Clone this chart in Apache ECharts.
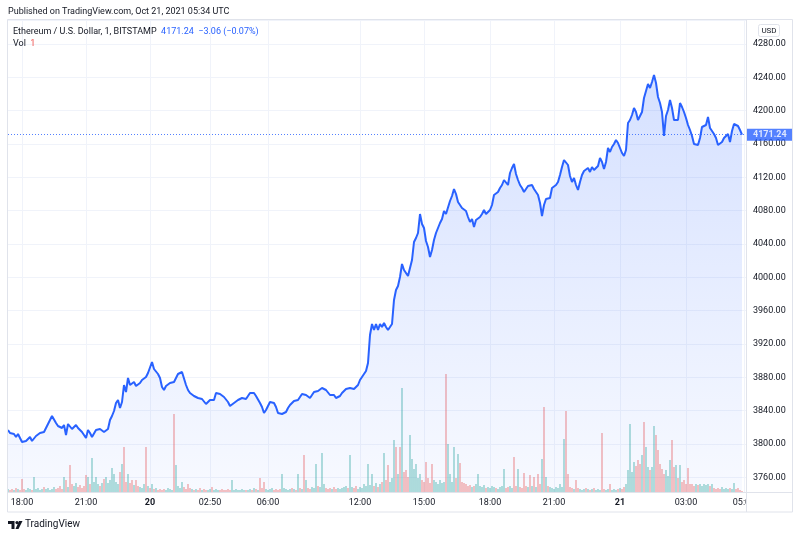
<!DOCTYPE html>
<html>
<head>
<meta charset="utf-8">
<script src="https://cdn.jsdelivr.net/npm/echarts@6/dist/echarts.min.js"></script>
<style>
html,body{margin:0;padding:0;background:#fff;}
#chart{width:800px;height:538px;}
</style>
</head>
<body>
<div id="chart"></div>
<script>
var chart = echarts.init(document.getElementById('chart'));

// ETH/USD 1 min closes, one value per ~2px bar slot
var prices = [
3816.8,3813.2,3810.8,3812.0,3808.4,3812.0,3807.2,3802.4,3801.2,3803.6,
3804.8,3808.4,3803.6,3804.8,3809.6,3812.0,3813.2,3815.6,3814.4,3819.2,
3821.6,3828.8,3833.6,3836.0,3825.2,3821.6,3820.4,3819.2,3822.8,3810.8,
3824.0,3824.0,3818.0,3819.2,3822.8,3819.2,3816.8,3814.4,3810.8,3807.2,
3816.8,3813.2,3808.4,3809.6,3816.8,3819.2,3818.0,3819.2,3814.4,3815.6,
3818.0,3828.8,3833.6,3839.6,3849.2,3852.8,3843.2,3850.4,3870.8,3862.4,
3879.2,3870.8,3869.6,3874.4,3869.6,3868.4,3873.2,3876.8,3878.0,3880.4,
3885.2,3884.0,3898.4,3890.0,3891.2,3884.0,3879.2,3868.4,3864.8,3869.6,
3872.0,3873.2,3873.2,3874.4,3879.2,3884.0,3885.2,3886.4,3884.0,3870.8,
3864.8,3861.2,3862.4,3857.6,3858.8,3855.2,3852.8,3854.0,3851.6,3848.0,
3850.4,3852.8,3850.4,3852.8,3861.2,3863.6,3860.0,3857.6,3856.4,3855.2,
3850.4,3845.6,3846.8,3849.2,3851.6,3852.8,3854.0,3855.2,3856.4,3854.0,
3857.6,3861.2,3858.8,3861.2,3857.6,3857.6,3849.2,3844.4,3837.2,3840.8,
3845.6,3850.4,3851.6,3849.2,3844.4,3837.2,3834.8,3836.0,3837.2,3838.4,
3843.2,3846.8,3845.6,3851.6,3850.4,3852.8,3851.6,3860.0,3857.6,3858.8,
3856.4,3855.2,3857.6,3862.4,3864.8,3863.6,3864.8,3867.2,3869.6,3864.8,
3863.6,3858.8,3861.2,3858.8,3855.2,3855.2,3857.6,3861.2,3862.4,3866.0,
3863.6,3867.2,3868.4,3866.0,3863.6,3870.8,3876.8,3880.4,3884.0,3887.6,
3897.2,3930.8,3944.0,3936.8,3944.0,3936.8,3944.0,3940.4,3945.2,3940.4,
3936.8,3940.4,3944.0,3972.8,3984.8,3989.6,4000.4,4016.0,4008.8,4006.4,
4001.6,4011.2,4020.8,4042.4,4047.2,4053.2,4076.0,4064.0,4059.2,4043.6,
4036.4,4024.4,4032.8,4044.8,4053.2,4059.2,4065.2,4070.0,4079.6,4076.0,
4077.2,4091.6,4097.6,4106.0,4100.0,4090.4,4090.4,4083.2,4082.0,4079.6,
4072.4,4066.4,4070.0,4060.4,4068.8,4070.0,4072.4,4076.0,4080.8,4076.0,
4077.2,4080.8,4086.8,4098.8,4097.6,4102.4,4107.2,4110.8,4116.8,4115.6,
4110.8,4125.2,4131.2,4136.0,4124.0,4116.8,4110.8,4107.2,4102.4,4100.0,
4109.6,4107.2,4110.8,4106.0,4106.0,4098.8,4089.2,4073.6,4086.8,4094.0,
4092.8,4095.2,4107.2,4109.6,4110.8,4114.4,4122.8,4132.4,4140.8,4142.0,
4134.8,4121.6,4114.4,4119.2,4110.8,4104.8,4114.4,4122.8,4127.6,4126.4,
4131.2,4126.4,4132.4,4128.8,4130.0,4133.6,4143.2,4138.4,4130.0,4138.4,
4155.2,4150.4,4156.4,4160.0,4164.8,4161.2,4161.2,4149.2,4145.6,4152.8,
4185.2,4188.8,4194.8,4203.2,4198.4,4188.8,4186.4,4198.4,4215.2,4223.6,
4232.0,4227.2,4234.4,4242.8,4233.2,4216.4,4209.2,4198.4,4169.6,4193.6,
4200.8,4212.8,4203.2,4188.8,4191.2,4188.8,4209.2,4204.4,4198.4,4191.2,
4182.8,4176.8,4169.6,4160.0,4162.4,4158.8,4167.2,4180.4,4181.6,4182.8,
4192.4,4179.2,4180.4,4172.0,4167.2,4158.8,4156.4,4162.4,4167.2,4167.2,
4172.0,4162.4,4175.6,4184.0,4182.8,4181.6,4176.8,4171.24
];

// volume per slot (ETH)
var volumes = [
3,2,3,2,4,3,2,13,3,2,
4,3,2,15,3,4,2,3,5,3,
4,2,3,5,3,4,6,3,15,12,
5,27,8,6,9,5,7,4,6,17,
15,8,34,10,15,8,6,9,13,15,
9,12,24,18,10,8,20,28,45,10,
18,9,12,7,12,6,5,4,8,45,
6,4,8,3,4,2,3,2,3,2,
4,3,2,78,27,6,4,10,5,3,
8,4,3,2,3,2,4,2,3,2,
2,3,5,2,3,2,2,3,2,2,
3,2,12,2,3,2,2,3,2,2,
2,3,2,4,3,2,14,4,10,3,
2,3,4,2,3,2,3,18,4,3,
2,3,4,3,2,18,4,3,37,12,
4,3,5,4,28,6,5,39,8,4,
3,4,3,5,3,4,3,4,5,6,
4,37,5,4,6,3,5,4,8,6,
28,7,18,6,9,5,8,10,39,12,
27,10,14,52,45,18,45,104,20,22,
15,57,33,23,28,14,18,12,10,30,
14,9,28,12,10,8,12,9,10,118,
48,18,10,45,14,38,29,10,9,8,
6,7,5,6,8,18,6,5,7,4,
5,4,6,5,4,3,5,6,23,4,
5,6,4,35,6,23,5,4,19,6,
5,17,6,15,5,18,8,33,85,15,
6,5,4,3,5,4,8,5,53,81,
18,5,4,3,12,4,3,2,3,4,
3,2,3,4,2,3,2,59,3,2,
3,8,2,3,2,3,4,3,5,8,
22,68,20,30,26,32,28,37,70,45,
25,22,25,66,57,42,28,23,18,22,
16,32,52,25,27,14,27,10,12,8,
24,8,8,6,8,7,8,6,8,7,
8,6,8,4,3,4,3,5,3,4,
3,4,3,9,3,4,2,1
];

// colour of the tall volume spikes as seen on the chart
var volRed = [31,58,69,83,148,194,196,209,212,219,226,253,268,279,297,318,324,325,332,340];
var volGreen = [42,157,171,188,193,197,201,223,225,248,255,267,278,311,317,323];

// time axis: slot index and label
var tickSlots = [7,39,71,101,130,176,208,241,273,306,339,368];
var tickLabels = ['18:00','21:00','20','02:50','06:00','12:00','15:00','18:00','21:00','21','03:00','05:00'];
var dayLabels = ['20','21'];

var lastChange = -3.06, lastChangePct = -0.07;

var slots = [];
for (var i = 0; i < prices.length + 2; i++) slots.push(String(i));

var lastPrice = prices[prices.length - 1];
var UP = 'rgba(38,166,154,0.5)', DOWN = 'rgba(239,83,80,0.5)';

var volData = volumes.map(function (v, i) {
    var up;
    if (volRed.indexOf(i) >= 0) up = false;
    else if (volGreen.indexOf(i) >= 0) up = true;
    else up = i === 0 || prices[i] >= prices[i - 1];
    return { value: v, itemStyle: { color: up ? UP : DOWN } };
});

function isTick(index) { return tickSlots.indexOf(index) >= 0; }

var FONT = 'Roboto';
var FS = 9;
var TXT = '#131722';
var BORDER = '#e0e3eb';
var GRID = '#f0f3fa';

var option = {
    animation: false,
    backgroundColor: '#fff',
    textStyle: { fontFamily: FONT },
    grid: [
        { left: 8, right: 54, top: 20, bottom: 46 },
        { left: 8, right: 54, top: 352, bottom: 46 }
    ],
    xAxis: [
        {
            type: 'category',
            gridIndex: 0,
            data: slots,
            boundaryGap: false,
            axisLine: { show: false },
            axisTick: { show: false },
            axisLabel: {
                interval: function (index) { return isTick(index); },
                formatter: function (value, index) {
                    var k = tickSlots.indexOf(Number(value));
                    if (k < 0) return '';
                    var t = tickLabels[k];
                    return dayLabels.indexOf(t) >= 0 ? '{b|' + t + '}' : t;
                },
                color: TXT,
                fontSize: FS,
                fontFamily: FONT,
                margin: 6,
                rich: { b: { fontWeight: 'bold', fontSize: FS, color: TXT, fontFamily: FONT } }
            },
            splitLine: {
                show: true,
                interval: function (index) { return isTick(index); },
                lineStyle: { color: GRID, width: 1 }
            }
        },
        { type: 'category', gridIndex: 1, data: slots, boundaryGap: false, show: false }
    ],
    yAxis: [
        {
            type: 'value',
            gridIndex: 0,
            position: 'right',
            min: 3742.4,
            max: 4308.8,
            minInterval: 40,
            maxInterval: 40,
            axisLine: { show: false },
            axisTick: { show: false },
            axisLabel: {
                showMinLabel: false,
                showMaxLabel: false,
                formatter: function (v) { return v.toFixed(2); },
                color: TXT,
                fontSize: FS,
                fontFamily: FONT,
                margin: 7
            },
            splitLine: { lineStyle: { color: GRID, width: 1 } }
        },
        { type: 'value', gridIndex: 1, min: 0, max: 140, show: false, splitLine: { show: false } }
    ],
    series: [
        {
            name: 'ETHUSD',
            type: 'line',
            xAxisIndex: 0,
            yAxisIndex: 0,
            data: prices,
            showSymbol: false,
            symbol: 'none',
            z: 3,
            lineStyle: { color: '#2962ff', width: 2 },
            areaStyle: {
                origin: 'start',
                color: new echarts.graphic.LinearGradient(0, 0, 0, 1, [
                    { offset: 0, color: 'rgba(41,98,255,0.28)' },
                    { offset: 1, color: 'rgba(41,98,255,0.05)' }
                ])
            },
            markLine: {
                silent: true,
                symbol: ['none', 'none'],
                lineStyle: { color: '#2962ff', type: [1, 2], width: 1, opacity: 0.8 },
                label: {
                    show: true,
                    position: 'end',
                    distance: 0,
                    formatter: lastPrice.toFixed(2),
                    color: '#fff',
                    backgroundColor: '#2962ff',
                    padding: [1, 6, 1, 7],
                    fontSize: FS,
                    fontWeight: 'bold',
                    fontFamily: FONT,
                    lineHeight: 10
                },
                data: [{ yAxis: lastPrice }]
            }
        },
        {
            name: 'Vol',
            type: 'bar',
            xAxisIndex: 1,
            yAxisIndex: 1,
            data: volData,
            barWidth: 1.4,
            z: 2
        }
    ],
    graphic: [
        // hide the part of the last time label that runs under the price scale
        { type: 'rect', z: 100, shape: { x: 747, y: 493, width: 45, height: 18 }, style: { fill: '#fff' } },
        { type: 'rect', z: 101, shape: { x: 7.5, y: 19.5, width: 785, height: 492.5 }, style: { fill: 'none', stroke: BORDER, lineWidth: 1 } },
        { type: 'line', z: 101, shape: { x1: 746.5, y1: 19.5, x2: 746.5, y2: 512 }, style: { stroke: BORDER, lineWidth: 1 } },
        { type: 'line', z: 101, shape: { x1: 7.5, y1: 492.5, x2: 792.5, y2: 492.5 }, style: { stroke: BORDER, lineWidth: 1 } },
        {
            type: 'text', z: 101, left: 8, top: 7,
            style: { text: 'Published on TradingView.com, Oct 21, 2021 05:34 UTC', fill: TXT, font: FS + 'px ' + FONT }
        },
        {
            type: 'text', z: 101, left: 13, top: 27,
            style: {
                text: '{n|Ethereum / U.S. Dollar, 1, BITSTAMP}  {v|' + lastPrice.toFixed(2) + '}  {v|\u2212' +
                    Math.abs(lastChange).toFixed(2) + ' (\u2212' + Math.abs(lastChangePct).toFixed(2) + '%)}',
                font: FS + 'px ' + FONT,
                rich: {
                    n: { fill: TXT, fontSize: FS, fontFamily: FONT },
                    v: { fill: '#2962ff', fontSize: FS, fontFamily: FONT }
                }
            }
        },
        {
            type: 'text', z: 101, left: 13, top: 39,
            style: {
                text: '{n|Vol}  {r|' + volumes[volumes.length - 1] + '}',
                font: FS + 'px ' + FONT,
                rich: {
                    n: { fill: TXT, fontSize: FS, fontFamily: FONT },
                    r: { fill: '#ef5350', fontSize: FS, fontFamily: FONT }
                }
            }
        },
        { type: 'rect', z: 101, shape: { x: 758.5, y: 24.5, width: 21, height: 12, r: 2 }, style: { fill: '#fff', stroke: BORDER, lineWidth: 1 } },
        {
            type: 'text', z: 102, x: 769, y: 30.5,
            style: { text: 'USD', fill: TXT, font: '8px ' + FONT, align: 'center', verticalAlign: 'middle' }
        },
        // TradingView logo
        {
            type: 'group', z: 101, x: 8, y: 521,
            children: [
                { type: 'polygon', shape: { points: [[0, 0], [6.5, 0], [6.5, 8], [3.5, 8], [3.5, 3], [0, 3]] }, style: { fill: TXT } },
                { type: 'circle', shape: { cx: 9, cy: 1.6, r: 1.6 }, style: { fill: TXT } },
                { type: 'polygon', shape: { points: [[11, 0], [14.5, 0], [10.5, 8], [7.5, 8]] }, style: { fill: TXT } }
            ]
        },
        {
            type: 'text', z: 101, left: 25, top: 519,
            style: { text: 'TradingView', fill: TXT, font: '10px ' + FONT }
        }
    ]
};

chart.setOption(option);
</script>
</body>
</html>
